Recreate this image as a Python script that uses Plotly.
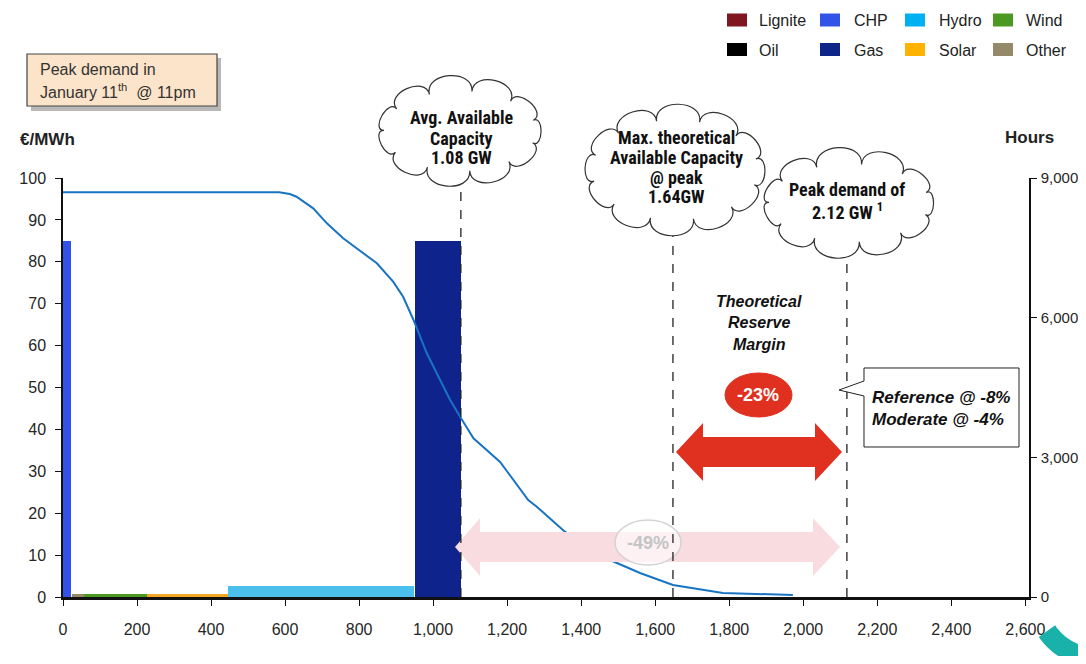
import math
import plotly.graph_objects as go

# ---------------- data ----------------
sources = ["CHP", "Other", "Wind", "Solar", "Hydro", "Gas"]
cap_start = [0, 24, 57, 227, 447, 952]
cap_end = [22, 57, 227, 447, 949, 1075]
price = [85, 0.7, 0.8, 0.8, 2.6, 85]
source_colors = ["#3352E8", "#948A6A", "#4A9A22", "#F5A623", "#4BC0EC", "#0F238C"]

curve_mw = [0, 584, 613, 631, 676, 713, 757, 798, 848, 892, 919, 947, 983, 1019,
            1046, 1073, 1109, 1181, 1257, 1280, 1356, 1424, 1478, 1559, 1648, 1783, 1972]
curve_hours = [8693, 8693, 8656, 8598, 8349, 8027, 7705, 7454, 7168, 6773, 6450, 5950,
               5235, 4661, 4231, 3873, 3409, 2900, 2084, 1940, 1403, 1052, 795, 516, 258, 86, 43]

legend_names = ["Lignite", "CHP", "Hydro", "Wind", "Oil", "Gas", "Solar", "Other"]
legend_colors = ["#7F1620", "#3352E8", "#00B0F0", "#4A9A22", "#000000", "#0D2589", "#FFB300", "#948A6A"]

markers_mw = [1075, 1648, 2118]  # avg available, max theoretical, peak demand

x_ticks = list(range(0, 2601, 200))
y_ticks = list(range(0, 101, 10))
y2_ticks = [0, 3000, 6000, 9000]

# ---------------- layout geometry (page pixels) ----------------
PAGE_W, PAGE_H = 1086, 664
OFF = 8  # default body margin of the html page (figure starts at page x=8, y=8)
FIG_W, FIG_H = PAGE_W - OFF, PAGE_H - 2 * OFF  # keep page free of a vertical scrollbar
L, R, T, B = 63, 1029, 178, 597
W, H = R - L, B - T


def px(x):
    return (x - L) / W


def py(y):
    return (B - y) / H


fig = go.Figure()

centers = [(s + e) / 2 for s, e in zip(cap_start, cap_end)]
widths = [e - s for s, e in zip(cap_start, cap_end)]
fig.add_trace(go.Bar(x=centers, y=price, width=widths, marker_color=source_colors,
                     marker_line_width=0, showlegend=False, hoverinfo="skip"))
fig.add_trace(go.Scatter(x=curve_mw, y=curve_hours, yaxis="y2", mode="lines",
                         line=dict(color="#1874C2", width=2), showlegend=False))

shapes = []
annotations = []
BASE_FONT = "Liberation Sans, Arial, sans-serif"
NARROW = "Liberation Sans Narrow, Arial Narrow, Roboto Condensed, DejaVu Sans Condensed, Liberation Sans, sans-serif"


def text(x, y, t, size=16, color="#222", family=BASE_FONT, xanchor="center", align="center"):
    annotations.append(dict(x=px(x), y=py(y), xref="paper", yref="paper", text=t,
                            showarrow=False, xanchor=xanchor, yanchor="middle", align=align,
                            font=dict(size=size, color=color, family=family)))


def poly(points, fill, line_color=None, lw=0):
    d = "M " + " L ".join(f"{px(x):.5f},{py(y):.5f}" for x, y in points) + " Z"
    shapes.append(dict(type="path", path=d, xref="paper", yref="paper", fillcolor=fill,
                       line=dict(color=line_color or fill, width=lw), layer="above"))


def cloud(cx, cy, a, b, n, k=0.55, phase=0.3):
    pts = []
    for i in range(n):
        t = 2 * math.pi * i / n + phase
        c, s = math.cos(t), math.sin(t)
        nx, ny = c / a, s / b
        nn = math.hypot(nx, ny)
        pts.append((cx + a * c, cy + b * s, nx / nn, ny / nn))
    d = f"M {px(pts[0][0]):.5f},{py(pts[0][1]):.5f}"
    for i in range(n):
        x1, y1, n1x, n1y = pts[i]
        x2, y2, n2x, n2y = pts[(i + 1) % n]
        ch = math.hypot(x2 - x1, y2 - y1) * k
        c1 = (x1 + ch * n1x, y1 + ch * n1y)
        c2 = (x2 + ch * n2x, y2 + ch * n2y)
        d += (f" C {px(c1[0]):.5f},{py(c1[1]):.5f} {px(c2[0]):.5f},{py(c2[1]):.5f}"
              f" {px(x2):.5f},{py(y2):.5f}")
    d += " Z"
    shapes.append(dict(type="path", path=d, xref="paper", yref="paper", fillcolor="white",
                       line=dict(color="#333", width=1.2), layer="above"))


# pink (faded) arrow
poly([(455, 547), (480, 518), (480, 532), (813, 532), (813, 518), (840, 547),
      (813, 576), (813, 562), (480, 562), (480, 576)], "#F9DCE0")
# -49% ellipse
shapes.append(dict(type="circle", xref="paper", yref="paper", x0=px(615), x1=px(681),
                   y0=py(565), y1=py(520), fillcolor="rgba(255,255,255,0.6)",
                   line=dict(color="#D4D4D4", width=1.5), layer="above"))
text(648, 543, "<b>-49%</b>", size=18, color="#C4C4C4")

# red arrow
poly([(676, 452), (703, 423), (703, 437), (815, 437), (815, 423), (842, 452),
      (815, 481), (815, 467), (703, 467), (703, 481)], "#E03020")
# -23% ellipse
shapes.append(dict(type="circle", xref="paper", yref="paper", x0=px(725), x1=px(792),
                   y0=py(417), y1=py(373), fillcolor="#E03020",
                   line=dict(color="#E03020", width=1), layer="above"))
text(758, 395, "<b>-23%</b>", size=18, color="white")

# dashed marker lines
tops = [174, 232, 255]
for m, tp in zip(markers_mw, tops):
    shapes.append(dict(type="line", xref="x", yref="paper", x0=m, x1=m, y0=0, y1=py(tp),
                       line=dict(color="#222", width=1.3, dash="dash"), layer="above"))

# clouds
cloud(460, 131, 76, 40, 11)
cloud(675, 170, 83, 50, 12)
cloud(849, 203, 80, 39, 11)

for t, yy in zip(["Avg. Available", "Capacity", "1.08 GW"], [117, 138, 158]):
    text(461, yy, f"<b>{t}</b>", size=18, color="#111", family=NARROW)
for t, yy in zip(["Max. theoretical", "Available Capacity", "@ peak", "1.64GW"], [137, 158, 177, 196]):
    text(676, yy, f"<b>{t}</b>", size=18, color="#111", family=NARROW)
for t, yy in zip(["Peak demand of", "2.12 GW <sup>1</sup>"], [189, 211]):
    text(847, yy, f"<b>{t}</b>", size=18, color="#111", family=NARROW)

# Theoretical reserve margin
for t, yy in zip(["Theoretical", "Reserve", "Margin"], [301, 322, 344]):
    text(759, yy, f"<b><i>{t}</i></b>", size=16, color="#111")

# callout box
poly([(864, 368), (1019, 368), (1019, 447), (864, 447), (864, 396), (839, 390), (864, 381)],
     "white", "#222", 1)
text(870, 397, "<b><i>Reference @ -8%</i></b>", size=17, color="#111", xanchor="left")
text(870, 419, "<b><i>Moderate @ -4%</i></b>", size=17, color="#111", xanchor="left")

# peak demand box with shadow
shapes.append(dict(type="rect", xref="paper", yref="paper", x0=px(31), x1=px(221),
                   y0=py(111), y1=py(58), fillcolor="rgba(0,0,0,0.28)", line=dict(width=0),
                   layer="above"))
shapes.append(dict(type="rect", xref="paper", yref="paper", x0=px(27), x1=px(217),
                   y0=py(106), y1=py(54), fillcolor="#FCE4CA", line=dict(color="#444", width=1.2),
                   layer="above"))
text(38, 69, "Peak demand in", size=16, color="#333", xanchor="left", align="left")
text(38, 91, "January 11<sup>th</sup> \u00a0@ 11pm", size=16, color="#333", xanchor="left", align="left")

# axis titles
text(47, 140, "<b>€/MWh</b>", size=17, color="#222")
text(1029, 137, "<b>Hours</b>", size=17, color="#222")

# manual legend
sq_x = [727, 820, 905, 993]
tx_x = [757, 852, 937, 1024]
row_y = [20, 49.5]
for i, (nm, col) in enumerate(zip(legend_names, legend_colors)):
    r, c = divmod(i, 4)
    shapes.append(dict(type="rect", xref="paper", yref="paper", x0=px(sq_x[c]), x1=px(sq_x[c] + 20),
                       y0=py(row_y[r] + 6.5), y1=py(row_y[r] - 6.5), fillcolor=col,
                       line=dict(width=0), layer="above"))
    text(tx_x[c], row_y[r] + 0.5, nm, size=16, color="#222", xanchor="left", align="left")

# teal decorative arc (bottom-right)
arc = []
cx, cy, rr = 1098, 596, 62
for i in range(0, 28):
    th = math.radians(86 + i * 2.2)
    arc.append((cx + rr * math.cos(th), cy + rr * math.sin(th)))
d = "M " + " L ".join(f"{px(x):.5f},{py(y):.5f}" for x, y in arc)
shapes.append(dict(type="path", path=d, xref="paper", yref="paper",
                   line=dict(color="#19B2AA", width=20), layer="above"))

axis_common = dict(ticks="outside", ticklen=6, tickcolor="#111", showline=True, linecolor="#111",
                   showgrid=False, zeroline=False, automargin=False)

fig.update_layout(
    width=FIG_W, height=FIG_H, autosize=False,
    margin=dict(l=L - OFF, r=PAGE_W - R, t=T - OFF, b=(FIG_H + OFF) - B, pad=0),
    paper_bgcolor="white", plot_bgcolor="white",
    barmode="overlay", bargap=0,
    font=dict(family=BASE_FONT, size=16, color="#222"),
    xaxis=dict(range=[0, 2610], tickvals=x_ticks, tickformat=",d", linewidth=3,
               ticklabelstandoff=10, tickfont=dict(size=16, color="#262626"), **axis_common),
    yaxis=dict(range=[0, 100], tickvals=y_ticks, linewidth=1.5, ticklabelstandoff=6,
               tickfont=dict(size=16, color="#262626"), **axis_common),
    yaxis2=dict(range=[0, 9000], tickvals=y2_ticks, tickformat=",d", overlaying="y", side="right",
                linewidth=1.5, ticklabelstandoff=1, tickfont=dict(size=15, color="#262626"),
                **axis_common),
    shapes=shapes, annotations=annotations,
)

fig.write_html("out.html")
